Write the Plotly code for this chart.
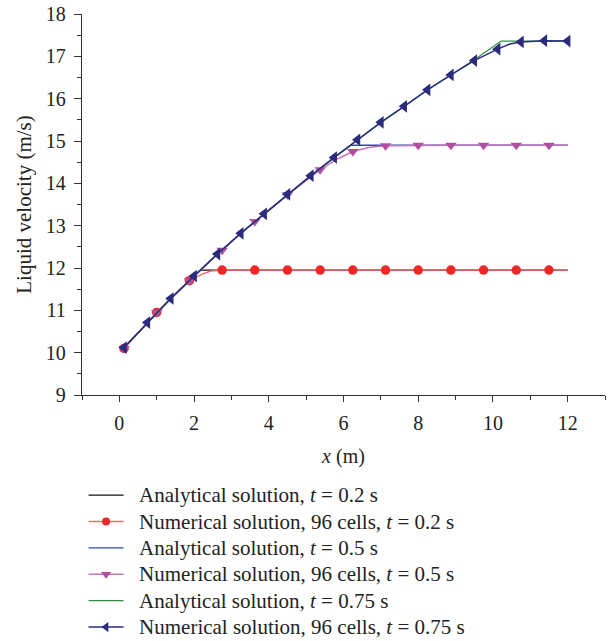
import plotly.graph_objects as go

# ---------------- data ----------------
# Analytical solutions
ana02_x = [0.125, 0.75, 1.375, 2.0, 2.18, 12.0]
ana02_y = [10.12, 10.71, 11.28, 11.81, 11.95, 11.95]

ana05_x = [0.125, 0.75, 1.375, 2.0, 2.625, 3.25, 3.875, 4.5, 5.125, 5.75, 6.2, 12.0]
ana05_y = [10.12, 10.71, 11.28, 11.81, 12.33, 12.82, 13.28, 13.74, 14.18, 14.61, 14.90, 14.90]

ana075_x = [0.125, 0.75, 1.375, 2.0, 2.625, 3.25, 3.875, 4.5, 5.125, 5.75, 6.375, 7.0,
            7.625, 8.25, 8.875, 9.5, 10.22, 12.0]
ana075_y = [10.12, 10.71, 11.28, 11.81, 12.33, 12.82, 13.28, 13.74, 14.18, 14.61, 15.03, 15.44,
            15.82, 16.21, 16.56, 16.92, 17.36, 17.36]

# Numerical solutions, 96 cells: marked points and extra (unmarked) line points
num02_mx = [0.125, 1.0, 1.875, 2.75, 3.625, 4.5, 5.375, 6.25, 7.125, 8.0, 8.875, 9.75, 10.625, 11.5]
num02_my = [10.10, 10.95, 11.70, 11.95, 11.95, 11.95, 11.95, 11.95, 11.95, 11.95, 11.95, 11.95, 11.95, 11.95]
num02_bx = [2.2, 2.45, 12.0]
num02_by = [11.85, 11.93, 11.95]

num05_mx = [0.125, 1.0, 1.875, 2.75, 3.625, 4.5, 5.375, 6.25, 7.125, 8.0, 8.875, 9.75, 10.625, 11.5]
num05_my = [10.10, 10.95, 11.70, 12.42, 13.10, 13.73, 14.32, 14.75, 14.89, 14.90, 14.90, 14.90, 14.90, 14.90]
num05_bx = [5.8, 6.7, 12.0]
num05_by = [14.56, 14.85, 14.90]

num075_mx = [0.125, 0.75, 1.375, 2.0, 2.625, 3.25, 3.875, 4.5, 5.125, 5.75, 6.375, 7.0,
             7.625, 8.25, 8.875, 9.5, 10.125, 10.75, 11.375, 12.0]
num075_my = [10.12, 10.71, 11.28, 11.81, 12.33, 12.82, 13.28, 13.74, 14.18, 14.61, 15.03, 15.44,
             15.82, 16.21, 16.56, 16.90, 17.17, 17.34, 17.37, 17.36]
num075_bx = [10.45]
num075_by = [17.29]

x_ticks = [0, 2, 4, 6, 8, 10, 12]
y_ticks = [9, 10, 11, 12, 13, 14, 15, 16, 17, 18]

names = [
    "Analytical solution, <i>t</i> = 0.2 s",
    "Numerical solution, 96 cells, <i>t</i> = 0.2 s",
    "Analytical solution, <i>t</i> = 0.5 s",
    "Numerical solution, 96 cells, <i>t</i> = 0.5 s",
    "Analytical solution, <i>t</i> = 0.75 s",
    "Numerical solution, 96 cells, <i>t</i> = 0.75 s",
]

FONT = "Liberation Serif, Times New Roman, serif"
FS = 20
LEG_FS = 21


def legend_label(t):
    return '<span style="font-size:%dpx">&nbsp;&nbsp;%s</span>' % (LEG_FS, t)


def merged(mx, my, bx, by):
    pts = sorted(zip(list(mx) + list(bx), list(my) + list(by)))
    return [p[0] for p in pts], [p[1] for p in pts]


fig = go.Figure()

analytic = [
    (ana02_x, ana02_y, "#111111", names[0]),
    (ana05_x, ana05_y, "#3048b0", names[2]),
    (ana075_x, ana075_y, "#2f8f45", names[4]),
]
numeric = [
    (num02_mx, num02_my, num02_bx, num02_by, "#f26a6a", "#ee2828", "circle", 9.5, 8, names[1]),
    (num05_mx, num05_my, num05_bx, num05_by, "#c574b8", "#b14fa0", "triangle-down", 10, 9, names[3]),
    (num075_mx, num075_my, num075_bx, num075_by, "#2b2b80", "#2b2b7e", "triangle-left", 11, 9, names[5]),
]

order = [("a", 0), ("n", 0), ("a", 1), ("n", 1), ("a", 2), ("n", 2)]

for kind, i in order:
    if kind == "a":
        x, y, c, nm = analytic[i]
        fig.add_trace(go.Scatter(x=x, y=y, mode="lines", name=legend_label(nm),
                                 line=dict(color=c, width=1.3)))
    else:
        mx, my, bx, by, lc, mc, sym, sz, lsz, nm = numeric[i]
        lx, ly = merged(mx, my, bx, by)
        fig.add_trace(go.Scatter(x=lx, y=ly, mode="lines", showlegend=False,
                                 line=dict(color=lc, width=1.5), legendgroup=nm))
        fig.add_trace(go.Scatter(x=mx, y=my, mode="markers", showlegend=False,
                                 marker=dict(symbol=sym, size=sz, color=mc), legendgroup=nm))
        # legend entry
        fig.add_trace(go.Scatter(x=[None], y=[None], mode="lines+markers", name=legend_label(nm),
                                 line=dict(color=lc, width=1.5), legendgroup=nm,
                                 marker=dict(symbol=sym, size=lsz, color=mc)))

axis_common = dict(
    showline=True, linecolor="#333333", linewidth=1.3, mirror=False,
    ticks="outside", tickcolor="#333333", tickwidth=1.2,
    showgrid=False, zeroline=False,
    tickfont=dict(family=FONT, size=FS, color="#222222"),
)

fig.update_xaxes(
    range=[-1, 13], tickvals=x_ticks, ticklen=6,
    minor=dict(dtick=1, tick0=0, ticks="outside", ticklen=4, tickcolor="#333333", tickwidth=1.1),
    title=dict(text="<i>x</i> (m)", font=dict(family=FONT, size=FS, color="#222222"), standoff=15),
    ticklabelstandoff=4,
    **axis_common,
)
fig.update_yaxes(
    range=[9, 18], tickvals=y_ticks, ticklen=7,
    minor=dict(dtick=0.5, tick0=0, ticks="outside", ticklen=4, tickcolor="#333333", tickwidth=1.1),
    title=dict(text="Liquid velocity (m/s)", font=dict(family=FONT, size=21, color="#222222"), standoff=8),
    ticklabelstandoff=4,
    **axis_common,
)

fig.update_layout(
    width=608, height=641,
    margin=dict(l=82, r=3, t=14, b=246, autoexpand=False),
    paper_bgcolor="white", plot_bgcolor="white",
    font=dict(family=FONT, size=FS, color="#222222"),
    legend=dict(
        x=0.003, y=-0.215, xanchor="left", yanchor="top",
        font=dict(family=FONT, size=18, color="#222222"),
        bgcolor="rgba(0,0,0,0)", tracegroupgap=0, itemwidth=35,
    ),
)

fig.write_html("out.html")
